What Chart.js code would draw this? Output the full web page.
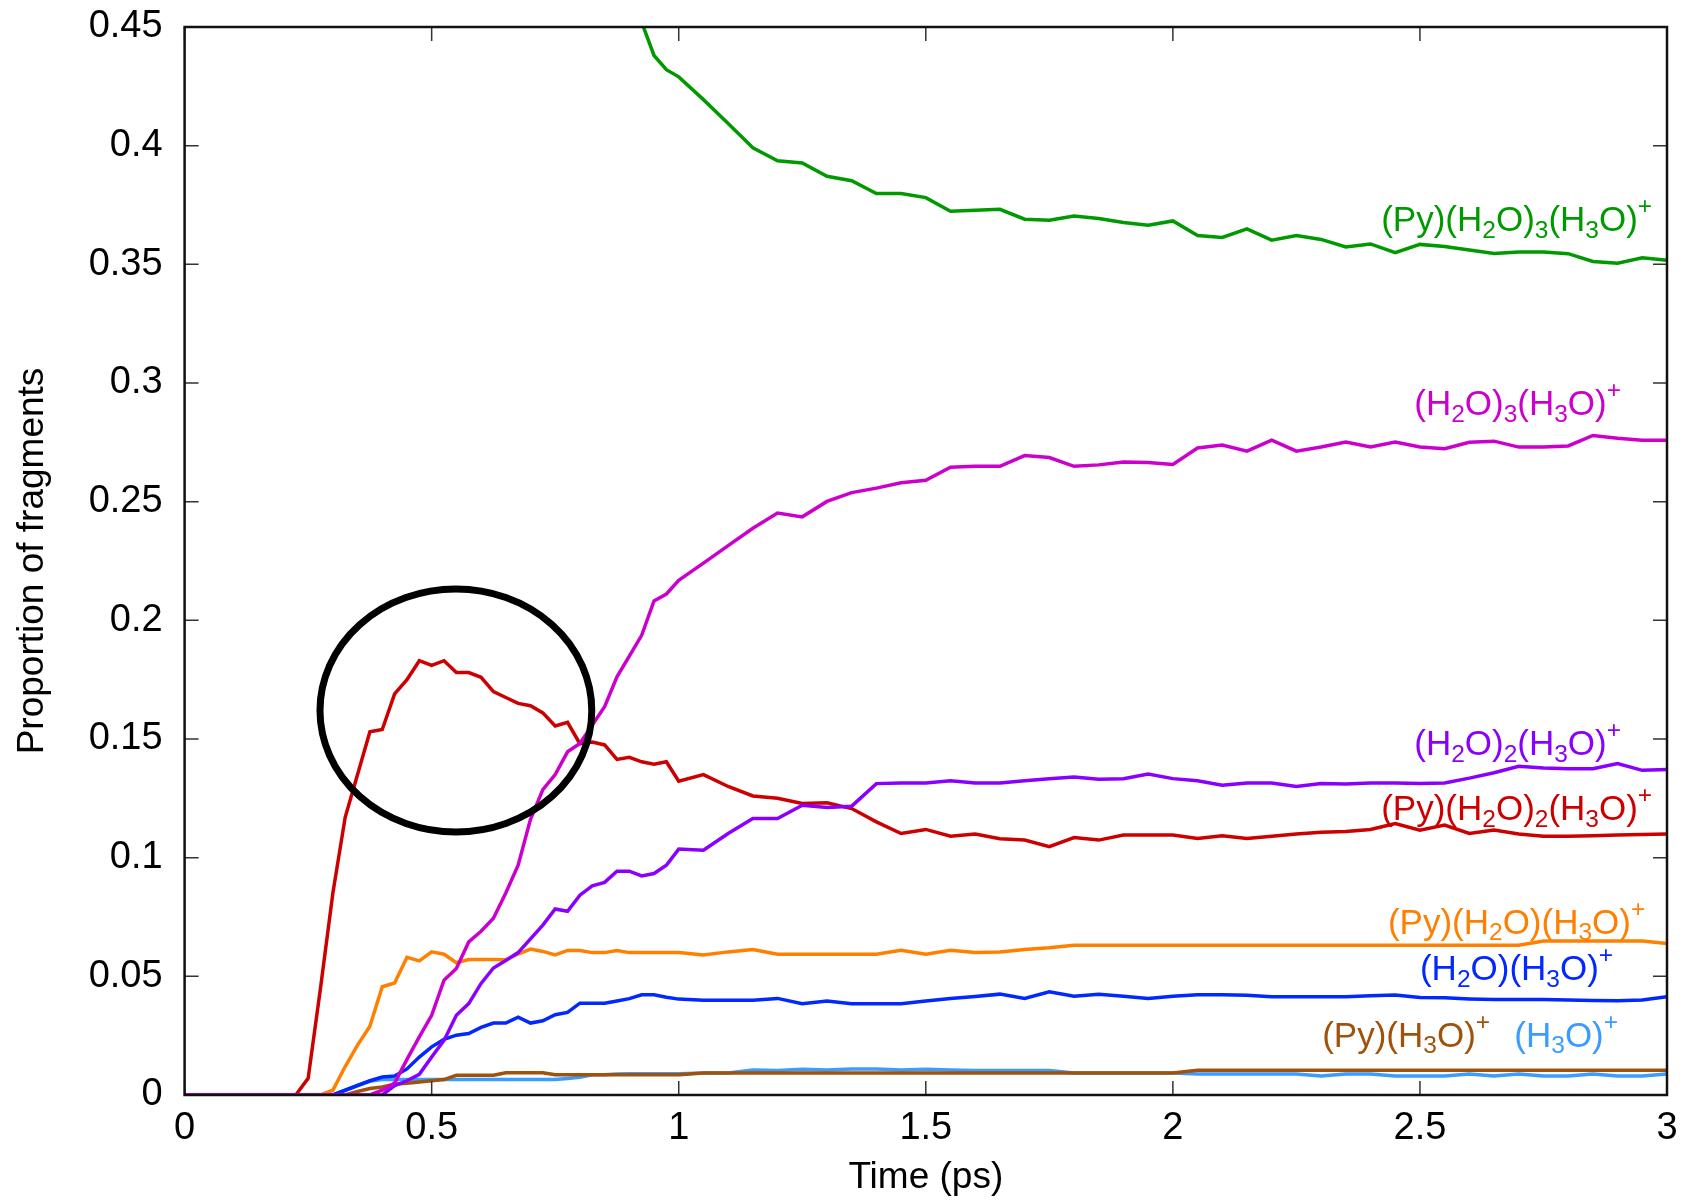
<!DOCTYPE html>
<html>
<head>
<meta charset="utf-8">
<title>Proportion of fragments</title>
<script src="https://cdn.jsdelivr.net/npm/chart.js@4.4.1/dist/chart.umd.min.js"></script>
<style>
    body { margin: 0; background: #fff; }
    #wrap { width: 1683px; height: 1200px; }
</style>
</head>
<body>
<div id="wrap"><canvas id="fragChart" width="1683" height="1200"></canvas></div>
<script>
// time axis (ps), finer steps during the fast rise
const times = [
    0, 0.025, 0.05, 0.075, 0.1, 0.125, 0.15, 0.175, 0.2, 0.225,
    0.25, 0.275, 0.3, 0.325, 0.35, 0.375, 0.4, 0.425, 0.45, 0.475,
    0.5, 0.525, 0.55, 0.575, 0.6, 0.625, 0.65, 0.675, 0.7, 0.725,
    0.75, 0.775, 0.8, 0.825, 0.85, 0.875, 0.9, 0.925, 0.95, 0.975,
    1.0, 1.05, 1.1, 1.15, 1.2, 1.25, 1.3, 1.35, 1.4, 1.45,
    1.5, 1.55, 1.6, 1.65, 1.7, 1.75, 1.8, 1.85, 1.9, 1.95,
    2.0, 2.05, 2.1, 2.15, 2.2, 2.25, 2.3, 2.35, 2.4, 2.45,
    2.5, 2.55, 2.6, 2.65, 2.7, 2.75, 2.8, 2.85, 2.9, 2.95,
    3.0
];

// (Py)(H2O)3(H3O)+  - starts above the plotted range
const pyW3 = [
    null, null, null, null, null, null, null, null, null, null,
    null, null, null, null, null, null, null, null, null, null,
    null, null, null, null, null, null, null, null, null, null,
    null, null, null, null, null, null, 0.467, 0.452, 0.438, 0.432,
    0.429, 0.4194, 0.4093, 0.3991, 0.3936, 0.3927, 0.3871, 0.3852, 0.3798, 0.3798,
    0.3781, 0.3724, 0.3728, 0.3732, 0.369, 0.3686, 0.3704, 0.3693, 0.3676, 0.3665,
    0.3683, 0.3621, 0.3613, 0.3649, 0.3602, 0.3621, 0.3605, 0.3573, 0.3586, 0.3549,
    0.3584, 0.3575, 0.356, 0.3546, 0.3552, 0.3552, 0.3545, 0.3512, 0.3505, 0.3528,
    0.3517
];

// (H2O)3(H3O)+
const w3 = [
    0, 0, 0, 0, 0, 0, 0, 0, 0, 0,
    0, 0, 0, 0, 0, 0, 0.002, 0.005, 0.015, 0.0245,
    0.0336, 0.0484, 0.0533, 0.0645, 0.069, 0.0745, 0.0851, 0.0968, 0.1162, 0.1287,
    0.135, 0.1446, 0.1481, 0.1559, 0.1636, 0.1762, 0.1849, 0.1937, 0.2082, 0.2111,
    0.2169, 0.2241, 0.2315, 0.2388, 0.2452, 0.2436, 0.2501, 0.2538, 0.2557, 0.258,
    0.259, 0.2645, 0.2649, 0.2649, 0.2694, 0.2686, 0.2649, 0.2655, 0.2667, 0.2665,
    0.2657, 0.2726, 0.2739, 0.2713, 0.2759, 0.2713, 0.273, 0.2751, 0.273, 0.2751,
    0.273, 0.2723, 0.275, 0.2755, 0.273, 0.273, 0.2735, 0.2779, 0.2767, 0.2759,
    0.2759
];

// (H2O)2(H3O)+
const w2 = [
    0, 0, 0, 0, 0, 0, 0, 0, 0, 0,
    0, 0, 0, 0, 0, 0, 0, 0.004, 0.006, 0.0087,
    0.016, 0.023, 0.0336, 0.0385, 0.047, 0.0535, 0.0567, 0.06, 0.0658, 0.0716,
    0.0784, 0.0774, 0.0842, 0.0881, 0.0896, 0.0943, 0.0943, 0.0923, 0.0933, 0.0968,
    0.1036, 0.1031, 0.1102, 0.1165, 0.1165, 0.1221, 0.1211, 0.1217, 0.1312, 0.1315,
    0.1315, 0.1324, 0.1315, 0.1315, 0.1324, 0.1333, 0.134, 0.133, 0.1333, 0.1352,
    0.1333, 0.1324, 0.1305, 0.1315, 0.1315, 0.13, 0.1312, 0.131, 0.1315, 0.1315,
    0.1312, 0.1315, 0.1335, 0.1358, 0.1385, 0.1378, 0.1375, 0.1375, 0.1397, 0.1368,
    0.1371
];

// (Py)(H2O)2(H3O)+
const pyW2 = [
    0, 0, 0, 0, 0, 0, 0, 0, 0, 0,
    0.007, 0.045, 0.085, 0.117, 0.135, 0.153, 0.154, 0.169, 0.175, 0.183,
    0.181, 0.183, 0.178, 0.178, 0.176, 0.17, 0.1675, 0.165, 0.164, 0.161,
    0.1555, 0.157, 0.148, 0.1487, 0.1475, 0.1414, 0.1423, 0.1404, 0.1394, 0.1404,
    0.1322, 0.135, 0.13, 0.126, 0.125, 0.1228, 0.1231, 0.1207, 0.1151, 0.1102,
    0.1119, 0.109, 0.11, 0.108, 0.1074, 0.1046, 0.1085, 0.1074, 0.1095, 0.1095,
    0.1095, 0.1081, 0.1092, 0.1081, 0.109, 0.11, 0.1107, 0.111, 0.1119, 0.1144,
    0.1116, 0.1137, 0.1102, 0.1116, 0.11, 0.109, 0.109, 0.1092, 0.1095, 0.1098,
    0.11
];

// (Py)(H2O)(H3O)+
const pyW1 = [
    0, 0, 0, 0, 0, 0, 0, 0, 0, 0,
    0, 0, 0.002, 0.012, 0.021, 0.029, 0.0456, 0.0472, 0.058, 0.0565,
    0.0603, 0.0593, 0.0557, 0.0571, 0.0571, 0.0571, 0.057, 0.0594, 0.0615, 0.0605,
    0.059, 0.0609, 0.0609, 0.06, 0.06, 0.0609, 0.06, 0.06, 0.06, 0.06,
    0.06, 0.059, 0.0603, 0.0613, 0.0593, 0.0593, 0.0593, 0.0593, 0.0593, 0.061,
    0.0593, 0.061, 0.06, 0.0603, 0.0613, 0.062, 0.0631, 0.0631, 0.0631, 0.0631,
    0.0631, 0.0631, 0.0631, 0.0631, 0.0631, 0.0631, 0.0631, 0.0631, 0.0631, 0.0631,
    0.0631, 0.0631, 0.0631, 0.0631, 0.0631, 0.0649, 0.0649, 0.0649, 0.0649, 0.0649,
    0.0638
];

// (H2O)(H3O)+
const w1 = [
    0, 0, 0, 0, 0, 0, 0, 0, 0, 0,
    0, 0, 0, 0.002, 0.004, 0.006, 0.0076, 0.008, 0.011, 0.016,
    0.0203, 0.0234, 0.0252, 0.0259, 0.0285, 0.0303, 0.0303, 0.0328, 0.0303, 0.0313,
    0.0338, 0.0348, 0.0387, 0.0387, 0.0387, 0.0396, 0.0406, 0.0422, 0.0422, 0.0412,
    0.0404, 0.0399, 0.0399, 0.0399, 0.0407, 0.0385, 0.0396, 0.0385, 0.0385, 0.0385,
    0.0396, 0.0407, 0.0415, 0.0425, 0.0407, 0.0435, 0.0416, 0.0425, 0.0416, 0.0407,
    0.0416, 0.0422, 0.0422, 0.042, 0.0414, 0.0414, 0.0414, 0.0414, 0.0418, 0.0421,
    0.0411, 0.041, 0.0405, 0.0402, 0.0402, 0.0402, 0.04, 0.0398, 0.0397, 0.04,
    0.0414
];

// (Py)(H3O)+
const pyH3O = [
    0, 0, 0, 0, 0, 0, 0, 0, 0, 0,
    0, 0, 0, 0, 0.0015, 0.0027, 0.0034, 0.0045, 0.005, 0.0055,
    0.006, 0.0065, 0.0083, 0.0083, 0.0083, 0.0083, 0.0094, 0.0094, 0.0094, 0.0094,
    0.0085, 0.0085, 0.0085, 0.0085, 0.0085, 0.0085, 0.0085, 0.0085, 0.0085, 0.0085,
    0.0085, 0.0093, 0.0093, 0.0093, 0.0093, 0.0093, 0.0093, 0.0093, 0.0093, 0.0093,
    0.0093, 0.0093, 0.0093, 0.0093, 0.0093, 0.0093, 0.0093, 0.0093, 0.0093, 0.0093,
    0.0093, 0.0104, 0.0104, 0.0104, 0.0104, 0.0104, 0.0104, 0.0104, 0.0104, 0.0104,
    0.0104, 0.0104, 0.0104, 0.0104, 0.0104, 0.0104, 0.0104, 0.0104, 0.0104, 0.0104,
    0.0104
];

// (H3O)+
const h3o = [
    0, 0, 0, 0, 0, 0, 0, 0, 0, 0,
    0, 0, 0, 0.002, 0.004, 0.0058, 0.0065, 0.0065, 0.0065, 0.0065,
    0.0065, 0.0065, 0.0065, 0.0065, 0.0065, 0.0065, 0.0065, 0.0065, 0.0065, 0.0065,
    0.0065, 0.007, 0.0075, 0.0085, 0.0085, 0.0088, 0.009, 0.009, 0.009, 0.009,
    0.009, 0.0093, 0.0093, 0.0105, 0.0103, 0.0108, 0.0105, 0.011, 0.011, 0.0105,
    0.0108, 0.0105, 0.0103, 0.0103, 0.0103, 0.0103, 0.0093, 0.0093, 0.0093, 0.0093,
    0.0093, 0.0088, 0.0088, 0.0088, 0.0088, 0.0088, 0.008, 0.0088, 0.0088, 0.008,
    0.008, 0.008, 0.0088, 0.008, 0.0088, 0.008, 0.008, 0.0088, 0.008, 0.008,
    0.0088
];

// tick labels
const xTickLabels = ['0', '0.5', '1', '1.5', '2', '2.5', '3'];
const yTickLabels = ['0', '0.05', '0.1', '0.15', '0.2', '0.25', '0.3', '0.35', '0.4', '0.45'];

// series names (gnuplot-like markup: _ sub, ^ sup), colours, label anchor (right end, baseline)
const seriesNames = [
    '(Py)(H_2O)_3(H_3O)^+', '(H_2O)_3(H_3O)^+', '(H_2O)_2(H_3O)^+', '(Py)(H_2O)_2(H_3O)^+',
    '(Py)(H_2O)(H_3O)^+', '(H_2O)(H_3O)^+', '(Py)(H_3O)^+', '(H_3O)^+'
];
const seriesValues = [pyW3, w3, w2, pyW2, pyW1, w1, pyH3O, h3o];
const seriesColors = ['#009a00', '#cc00cc', '#8a00ff', '#cc0000', '#ff8000', '#0028ff', '#a0520a', '#3a9cff'];
const labelX = [2.970, 2.907, 2.907, 2.970, 2.956, 2.891, 2.642, 2.901];
const labelY = [0.364, 0.2864, 0.1432, 0.1158, 0.068, 0.0484, 0.0203, 0.0203];

// circled region (centre and radii in data units)
const circleCentre = [0.549, 0.162];
const circleRadius = [0.275, 0.0512];

const FONT = '"Liberation Sans", Arial, Helvetica, sans-serif';

function buildDatasets() {
    return seriesValues.map(function (vals, i) {
        return {
            label: seriesNames[i],
            data: times.map(function (t, k) { return { x: t, y: vals[k] }; }),
            borderColor: seriesColors[i],
            backgroundColor: seriesColors[i],
            borderWidth: 3.5,
            pointRadius: 0,
            tension: 0,
            spanGaps: false
        };
    });
}

// draw a label with _sub and ^sup parts, right aligned at x
function drawRichLabel(ctx, text, xRight, yBase, size, color) {
    var parts = [];
    var re = /([_^])(\{[^}]*\}|.)|([^_^]+)/g;
    var m;
    while ((m = re.exec(text)) !== null) {
        if (m[3]) {
            parts.push({ t: m[3], mode: 0 });
        } else {
            var s = m[2].replace(/[{}]/g, '');
            parts.push({ t: s, mode: m[1] === '_' ? -1 : 1 });
        }
    }
    var small = size * 0.7;
    var total = 0;
    parts.forEach(function (p) {
        ctx.font = (p.mode === 0 ? size : small) + 'px ' + FONT;
        p.w = ctx.measureText(p.t).width;
        total += p.w;
    });
    var x = xRight - total;
    ctx.fillStyle = color;
    ctx.textBaseline = 'alphabetic';
    ctx.textAlign = 'left';
    parts.forEach(function (p) {
        ctx.font = (p.mode === 0 ? size : small) + 'px ' + FONT;
        var dy = 0;
        if (p.mode === -1) dy = size * 0.19;
        if (p.mode === 1) dy = -size * 0.48;
        ctx.fillText(p.t, x, yBase + dy);
        x += p.w;
    });
}

// frame, inward ticks, circle and curve labels
const decorPlugin = {
    id: 'decor',
    afterDatasetsDraw: function (chart) {
        const ctx = chart.ctx;
        const area = chart.chartArea;
        const xs = chart.scales.x;
        const ys = chart.scales.y;

        ctx.save();
        // circle
        const cx = xs.getPixelForValue(circleCentre[0]);
        const cy = ys.getPixelForValue(circleCentre[1]);
        const rx = xs.getPixelForValue(circleCentre[0] + circleRadius[0]) - cx;
        const ry = cy - ys.getPixelForValue(circleCentre[1] + circleRadius[1]);
        ctx.beginPath();
        ctx.ellipse(cx, cy, rx, ry, 0, 0, Math.PI * 2);
        ctx.lineWidth = 7;
        ctx.strokeStyle = '#000';
        ctx.stroke();

        // labels
        seriesNames.forEach(function (name, i) {
            drawRichLabel(ctx, name, xs.getPixelForValue(labelX[i]), ys.getPixelForValue(labelY[i]), 35, seriesColors[i]);
        });

        // inward ticks on all four sides
        const tickLen = 14;
        ctx.strokeStyle = '#333';
        ctx.lineWidth = 1.5;
        ctx.beginPath();
        xs.ticks.forEach(function (tk) {
            const px = xs.getPixelForValue(tk.value);
            ctx.moveTo(px, area.bottom);
            ctx.lineTo(px, area.bottom - tickLen);
            ctx.moveTo(px, area.top);
            ctx.lineTo(px, area.top + tickLen);
        });
        ys.ticks.forEach(function (tk) {
            const py = ys.getPixelForValue(tk.value);
            ctx.moveTo(area.left, py);
            ctx.lineTo(area.left + tickLen, py);
            ctx.moveTo(area.right, py);
            ctx.lineTo(area.right - tickLen, py);
        });
        ctx.stroke();

        // frame
        ctx.strokeStyle = '#111';
        ctx.lineWidth = 2.5;
        ctx.strokeRect(area.left, area.top, area.right - area.left, area.bottom - area.top);
        ctx.restore();
    }
};

document.addEventListener('DOMContentLoaded', function () {
    const ctx = document.getElementById('fragChart').getContext('2d');

    new Chart(ctx, {
        type: 'line',
        data: { datasets: buildDatasets() },
        options: {
            responsive: false,
            animation: false,
            events: [],
            layout: { padding: { left: 0, right: 16, top: 27, bottom: 0 } },
            plugins: {
                legend: { display: false },
                tooltip: { enabled: false }
            },
            scales: {
                x: {
                    type: 'linear',
                    min: 0,
                    max: 3,
                    grid: { display: false, drawTicks: false },
                    border: { display: false },
                    afterFit: function (scale) {
                        // fixed axis height, no extra room for the end labels
                        scale.height = 105;
                        scale.paddingLeft = 0;
                        scale.paddingRight = 0;
                    },
                    ticks: {
                        stepSize: 0.5,
                        padding: 11,
                        color: '#000',
                        font: { family: FONT, size: 38 },
                        callback: function (value, index) { return xTickLabels[index]; }
                    },
                    title: {
                        display: true,
                        text: 'Time (ps)',
                        color: '#000',
                        font: { family: FONT, size: 37 },
                        padding: { top: 0, bottom: 0 }
                    }
                },
                y: {
                    type: 'linear',
                    min: 0,
                    max: 0.45,
                    grid: { display: false, drawTicks: false },
                    border: { display: false },
                    afterFit: function (scale) {
                        scale.width = 184.6;
                        scale.paddingTop = 0;
                        scale.paddingBottom = 0;
                    },
                    ticks: {
                        stepSize: 0.05,
                        padding: 22,
                        color: '#000',
                        font: { family: FONT, size: 38 },
                        callback: function (value, index) { return yTickLabels[index]; }
                    },
                    title: {
                        display: true,
                        text: 'Proportion of fragments',
                        color: '#000',
                        font: { family: FONT, size: 37 },
                        padding: { top: 11, bottom: 0 }
                    }
                }
            }
        },
        plugins: [decorPlugin]
    });
});
</script>
</body>
</html>
